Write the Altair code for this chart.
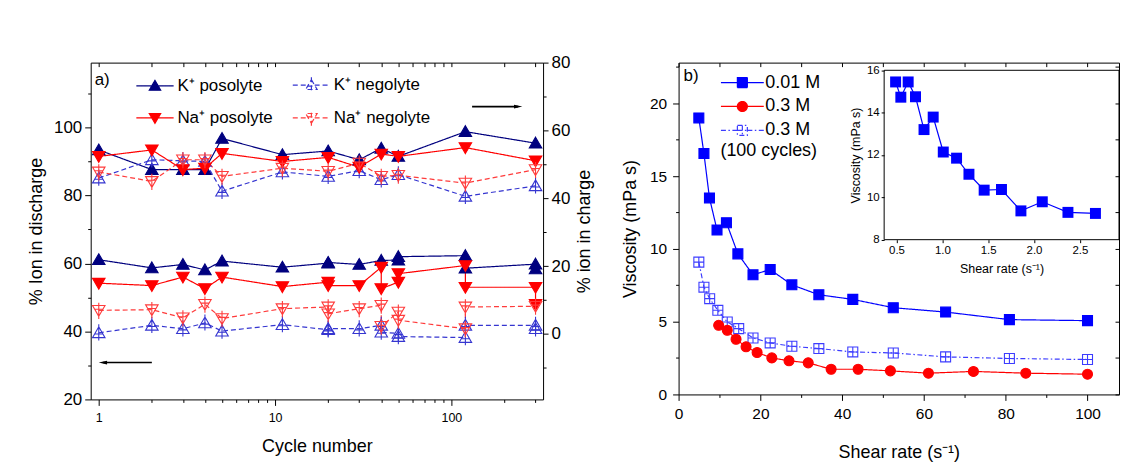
import altair as alt
import pandas as pd

FONT = "Liberation Sans"

# ================= panel a) : ion crossover vs cycle number =================
SERIES_A = ["K⁺ posolyte", "K⁺ negolyte", "Na⁺ posolyte", "Na⁺ negolyte"]
COLORS_A = ["#00007f", "#3535d0", "#ff0000", "#ff3b3b"]
FILLS_A = ["#00007f", "transparent", "#ff0000", "transparent"]
DASHES_A = [[1, 0], [5, 3], [1, 0], [5, 3]]

# charge group (right axis, % ion in charge)
CHARGE_CYCLES = [1, 2, 3, 4, 5, 11, 20, 30, 40, 50, 120, 300]
K_POS_CHARGE = [54.3, 48.5, 48.5, 48.5, 57.7, 52.9, 54.0, 51.4, 54.8, 52.4, 59.7, 56.3]
K_NEG_CHARGE = [46.0, 51.4, 51.1, 50.9, 42.1, 47.8, 46.5, 48.2, 45.5, 47.0, 40.6, 43.7]
NA_POS_CHARGE = [52.4, 54.3, 48.5, 48.9, 53.3, 50.9, 52.1, 49.2, 53.1, 52.4, 55.0, 51.1]
NA_NEG_CHARGE = [47.8, 45.0, 51.4, 51.4, 46.5, 48.9, 48.0, 50.4, 46.5, 46.8, 44.5, 48.5]

# discharge group (left axis, % ion in discharge)
K_POS_DIS_CYCLES = [1, 2, 3, 4, 5, 11, 20, 20, 30, 40, 50, 50, 120, 120, 300, 300]
K_POS_DIS = [61.1, 58.7, 59.7, 58.1, 60.7, 58.9, 60.1, 60.3, 59.7, 60.9, 61.0, 62.0, 62.3, 58.6, 59.8, 58.4]
K_NEG_DIS_CYCLES = [1, 2, 3, 4, 5, 11, 20, 20, 30, 40, 40, 50, 50, 120, 120, 300, 300]
K_NEG_DIS = [39.6, 41.8, 40.8, 42.5, 40.1, 42.0, 40.5, 40.8, 40.8, 41.8, 39.8, 39.4, 38.5, 38.2, 41.8, 41.8, 40.8]
NA_POS_DIS_CYCLES = [1, 2, 3, 4, 5, 11, 20, 20, 30, 40, 40, 50, 50, 120, 120, 300, 300]
NA_POS_DIS = [54.2, 53.5, 56.0, 52.6, 56.0, 53.2, 54.5, 53.5, 53.5, 58.9, 52.6, 54.5, 57.0, 59.4, 53.0, 53.0, 48.0]
NA_NEG_DIS_CYCLES = [1, 2, 3, 4, 5, 11, 20, 20, 30, 40, 40, 50, 50, 120, 120, 300]
NA_NEG_DIS = [46.2, 46.4, 44.0, 48.0, 43.8, 46.7, 47.2, 45.2, 46.7, 47.7, 41.5, 45.7, 43.3, 40.8, 47.2, 47.4]

# axis-indicator arrows (data units)
ARROW_CHARGE_X = [131, 239]
ARROW_CHARGE_Y = 67.1
ARROW_DIS_X = [2.0, 1.055]
ARROW_DIS_Y = 30.85

X_TICKS_A = [1, 2, 3, 4, 5, 6, 7, 8, 9, 10, 20, 30, 40, 50, 60, 70, 80, 90, 100, 200, 300]
Y_TICKS_DIS = [20, 30, 40, 50, 60, 70, 80, 90, 100, 110]
Y_TICKS_CHG = [-10, 0, 10, 20, 30, 40, 50, 60, 70, 80]

# ================= panel b) : viscosity vs shear rate =================
SERIES_B = ["0.01 M", "0.3 M", "0.3 M "]
COLORS_B = ["#0000ff", "#ff0000", "#3c3cff"]
FILLS_B = ["#0000ff", "#ff0000", "transparent"]
DASHES_B = [[1, 0], [1, 0], [5, 2.5, 1.5, 2.5]]

SHEAR_001 = [4.95, 6.2, 7.55, 9.4, 11.7, 14.5, 18.2, 22.4, 27.7, 34.3, 42.6, 52.5, 65.3, 80.9, 100]
VISC_001 = [19.0, 16.55, 13.5, 11.3, 11.8, 9.66, 8.22, 8.58, 7.53, 6.85, 6.53, 5.96, 5.66, 5.14, 5.07]
SHEAR_03 = [9.8, 11.9, 14.05, 16.5, 19.2, 22.8, 27.0, 31.7, 37.3, 43.9, 51.8, 61.1, 72.1, 84.9, 100]
VISC_03 = [4.75, 4.41, 3.79, 3.27, 2.88, 2.51, 2.31, 2.17, 1.73, 1.73, 1.62, 1.46, 1.58, 1.46, 1.39]
SHEAR_03_100 = [4.95, 6.2, 7.6, 9.6, 11.9, 14.7, 18.2, 22.4, 27.7, 34.3, 42.6, 52.5, 65.3, 80.9, 100]
VISC_03_100 = [9.09, 7.37, 6.58, 5.78, 4.98, 4.52, 3.88, 3.54, 3.31, 3.15, 2.92, 2.85, 2.58, 2.47, 2.40]

INSET_SHEAR = [0.49, 0.547, 0.627, 0.707, 0.80, 0.90, 1.01, 1.155, 1.29, 1.456, 1.645, 1.857, 2.09, 2.37, 2.67]
INSET_VISC = [15.45, 14.73, 15.45, 14.75, 13.2, 13.79, 12.14, 11.85, 11.09, 10.34, 10.37, 9.36, 9.79, 9.29, 9.24]

X_TICKS_B = [0, 10, 20, 30, 40, 50, 60, 70, 80, 90, 100]
Y_TICKS_B = [0, 2.5, 5, 7.5, 10, 12.5, 15, 17.5, 20, 22.5]
INSET_X_DOMAIN = [0.365, 2.927]
INSET_Y_DOMAIN = [8, 16]
INSET_X_TICKS = [0.5, 1.0, 1.5, 2.0, 2.5]
INSET_Y_TICKS = [8, 10, 12, 14, 16]

# ---------------- marker shapes (SVG paths, unit coords) ----------------
TRI_UP = "M0,-1.05L1.1,0.85L-1.1,0.85Z"
TRI_DN = "M0,1.05L1.1,-0.85L-1.1,-0.85Z"
TRI_UP_X = TRI_UP + "M0,-1.5L0,1.35M-0.75,0.2L0.75,0.2"
TRI_DN_X = TRI_DN + "M0,1.5L0,-1.35M-0.75,-0.2L0.75,-0.2"
SHAPES_A = [TRI_UP, TRI_UP_X, TRI_DN, TRI_DN_X]
LEG_LINE_A = "M-3.6,0L-0.62,0M0.62,0L3.6,0"

# legend order (filled column by column)
LEG_ORDER_A = [0, 2, 1, 3]
LEG_SERIES_A = [SERIES_A[i] for i in LEG_ORDER_A]
LEG_COLORS_A = [COLORS_A[i] for i in LEG_ORDER_A]
LEG_FILLS_A = [FILLS_A[i] for i in LEG_ORDER_A]
LEG_DASHES_A = [DASHES_A[i] for i in LEG_ORDER_A]
LEG_SHAPES_A = [LEG_LINE_A + SHAPES_A[i] for i in LEG_ORDER_A]

SQ = "M-1,-1L1,-1L1,1L-1,1Z"
CIRC = "M-1,0A1,1 0 1 0 1,0A1,1 0 1 0 -1,0Z"
SQ_X = SQ + "M0,-1L0,1M-1,0L1,0"
SHAPES_B = [SQ, CIRC, SQ_X]
LEG_LINE_B = "M-4.3,0L-1,0M1,0L4.3,0"
LEG_SHAPES_B = [LEG_LINE_B + s for s in SHAPES_B]
ARROW_R = "M1,0L-1,-0.45L-1,0.45Z"
ARROW_L = "M-1,0L1,-0.45L1,0.45Z"


def long_df(entries, xname, yname):
    rows = []
    for s, xs, ys in entries:
        for i, (a, b) in enumerate(zip(xs, ys)):
            rows.append({"series": s, xname: a, yname: b, "idx": i})
    return pd.DataFrame(rows)


def cond(test, major, minor):
    return {"condition": {"test": test, "value": major}, "value": minor}


# ---------------- panel a scales / axes ----------------
XS_A = alt.Scale(type="log", domain=[0.9, 331], nice=False)
YS_DIS = alt.Scale(domain=[20, 119.1], nice=False, zero=False)
YS_CHG = alt.Scale(domain=[-19.4, 80.1], nice=False, zero=False)

MAJOR_A = "datum.value == 1 || datum.value == 10 || datum.value == 100"
X_AX_A = alt.Axis(orient="bottom", values=X_TICKS_A,
                  labelExpr="(" + MAJOR_A + ") ? format(datum.value, 'd') : ''",
                  tickSize=cond(MAJOR_A, 6, 3), labelFontSize=12.5, labelPadding=6,
                  title="Cycle number", titleFontSize=18, titlePadding=14, domain=False)
X_AX_A_TOP = alt.Axis(orient="top", values=X_TICKS_A, labels=False, title=None,
                      domain=False, tickSize=4, offset=-4)
Y_AX_DIS = alt.Axis(orient="left", values=Y_TICKS_DIS,
                    labelExpr="datum.value % 20 == 0 ? datum.label : ''",
                    tickSize=cond("datum.value % 20 == 0", 6, 3), labelFontSize=17,
                    labelPadding=3, title="% Ion in discharge", titleFontSize=18,
                    titlePadding=8, domain=False)
Y_AX_CHG = alt.Axis(orient="right", values=Y_TICKS_CHG,
                    labelExpr="datum.value % 20 == 0 ? datum.label : ''",
                    tickSize=cond("datum.value % 20 == 0", 5, 3), labelFontSize=17,
                    labelPadding=3, title="% ion in charge", titleFontSize=18,
                    titleAngle=270, titleBaseline="top", titlePadding=6, domain=False)

dis_df = long_df([
    (SERIES_A[0], K_POS_DIS_CYCLES, K_POS_DIS),
    (SERIES_A[1], K_NEG_DIS_CYCLES, K_NEG_DIS),
    (SERIES_A[2], NA_POS_DIS_CYCLES, NA_POS_DIS),
    (SERIES_A[3], NA_NEG_DIS_CYCLES, NA_NEG_DIS),
], "cycle", "val")
chg_df = long_df([
    (SERIES_A[0], CHARGE_CYCLES, K_POS_CHARGE),
    (SERIES_A[1], CHARGE_CYCLES, K_NEG_CHARGE),
    (SERIES_A[2], CHARGE_CYCLES, NA_POS_CHARGE),
    (SERIES_A[3], CHARGE_CYCLES, NA_NEG_CHARGE),
], "cycle", "val")


def group_a(df, yscale, xaxis, yaxis, arrow_x, arrow_y, arrow_shape):
    x = alt.X("cycle:Q", scale=XS_A, axis=xaxis)
    y = alt.Y("val:Q", scale=yscale, axis=yaxis)
    lines = alt.Chart(df).mark_line(strokeWidth=1.2).encode(
        x=x, y=y,
        color=alt.Color("series:N", scale=alt.Scale(domain=SERIES_A, range=COLORS_A), legend=None),
        strokeDash=alt.StrokeDash("series:N", scale=alt.Scale(domain=SERIES_A, range=DASHES_A), legend=None),
        order=alt.Order("idx:Q"),
    )
    pts = alt.Chart(df).mark_point(size=130, strokeWidth=1.1, opacity=1).encode(
        x=x, y=y,
        shape=alt.Shape("series:N", scale=alt.Scale(domain=SERIES_A, range=SHAPES_A), legend=None),
        stroke=alt.Stroke("series:N", scale=alt.Scale(domain=SERIES_A, range=COLORS_A), legend=None),
        fill=alt.Fill("series:N", scale=alt.Scale(domain=SERIES_A, range=FILLS_A), legend=None),
    )
    adf = pd.DataFrame({"x1": [arrow_x[0]], "x2": [arrow_x[1]], "y": [arrow_y]})
    rule = alt.Chart(adf).mark_rule(color="black", strokeWidth=1.6).encode(
        x=alt.X("x1:Q", scale=XS_A, axis=xaxis), x2="x2:Q",
        y=alt.Y("y:Q", scale=yscale, axis=yaxis))
    head = alt.Chart(adf).mark_point(shape=arrow_shape, size=70, filled=True,
                                     color="black", opacity=1).encode(
        x=alt.X("x2:Q", scale=XS_A, axis=xaxis),
        y=alt.Y("y:Q", scale=yscale, axis=yaxis))
    return alt.layer(lines, pts, rule, head)


lower_a = group_a(dis_df, YS_DIS, X_AX_A, Y_AX_DIS, ARROW_DIS_X, ARROW_DIS_Y, ARROW_L)
upper_a = group_a(chg_df, YS_CHG, X_AX_A_TOP, Y_AX_CHG, ARROW_CHARGE_X, ARROW_CHARGE_Y, ARROW_R)

LEG_A = alt.Legend(orient="none", legendX=56, legendY=14, columns=2, title=None,
                   labelFontSize=17, labelFont=FONT, labelColor="black",
                   labelOffset=14, columnPadding=17, rowPadding=14,
                   symbolSize=108, symbolStrokeWidth=1.2)
legend_a = alt.Chart(dis_df).transform_filter("false").mark_point(
    size=108, strokeWidth=1.2, opacity=1).encode(
    shape=alt.Shape("series:N", scale=alt.Scale(domain=LEG_SERIES_A, range=LEG_SHAPES_A), legend=LEG_A),
    stroke=alt.Stroke("series:N", scale=alt.Scale(domain=LEG_SERIES_A, range=LEG_COLORS_A), legend=LEG_A),
    fill=alt.Fill("series:N", scale=alt.Scale(domain=LEG_SERIES_A, range=LEG_FILLS_A), legend=LEG_A),
    strokeDash=alt.StrokeDash("series:N", scale=alt.Scale(domain=LEG_SERIES_A, range=LEG_DASHES_A), legend=LEG_A),
)
text_a = alt.Chart(pd.DataFrame({"t": ["a)"]})).mark_text(
    fontSize=17, align="left", baseline="middle").encode(
    text="t:N", x=alt.value(4), y=alt.value(17))

panel_a = alt.layer(lower_a, upper_a, legend_a, text_a).resolve_scale(
    y="independent", color="independent", stroke="independent", fill="independent",
    shape="independent", strokeDash="independent").resolve_axis(
    x="independent").properties(width=454, height=338)

# ---------------- panel b scales / axes ----------------
XS_B = alt.Scale(domain=[0, 107.7], nice=False, zero=False)
YS_B = alt.Scale(domain=[0, 22.8], nice=False, zero=False)
X_AX_B = alt.Axis(orient="bottom", values=X_TICKS_B,
                  labelExpr="datum.value % 20 == 0 ? datum.label : ''",
                  tickSize=cond("datum.value % 20 == 0", 6, 3), labelFontSize=15.5,
                  labelPadding=6, title="Shear rate (s⁻¹)", titleFontSize=18,
                  titlePadding=22, domain=False)
Y_AX_B = alt.Axis(orient="left", values=Y_TICKS_B,
                  labelExpr="datum.value % 5 == 0 ? datum.label : ''",
                  tickSize=cond("datum.value % 5 == 0", 6, 3), labelFontSize=15.5,
                  labelPadding=6, title="Viscosity (mPa s)", titleFontSize=18,
                  titlePadding=10, domain=False)
X_AX_B_TOP = alt.Axis(orient="top", values=X_TICKS_B, labels=False, title=None,
                      domain=False, tickSize=4, offset=-4)
Y_AX_B_RIGHT = alt.Axis(orient="right", values=Y_TICKS_B, labels=False, title=None,
                        domain=False, tickSize=4, offset=-4)

b_df = long_df([
    (SERIES_B[2], SHEAR_03_100, VISC_03_100),
    (SERIES_B[1], SHEAR_03, VISC_03),
    (SERIES_B[0], SHEAR_001, VISC_001),
], "shear", "visc")

xb = alt.X("shear:Q", scale=XS_B, axis=X_AX_B)
yb = alt.Y("visc:Q", scale=YS_B, axis=Y_AX_B)
line_b = alt.Chart(b_df).mark_line(strokeWidth=1.2).encode(
    x=xb, y=yb,
    color=alt.Color("series:N", scale=alt.Scale(domain=SERIES_B, range=COLORS_B), legend=None),
    strokeDash=alt.StrokeDash("series:N", scale=alt.Scale(domain=SERIES_B, range=DASHES_B), legend=None),
    order=alt.Order("idx:Q"),
)
pts_b = alt.Chart(b_df).mark_point(size=100, strokeWidth=1.1, opacity=1).encode(
    x=xb, y=yb,
    shape=alt.Shape("series:N", scale=alt.Scale(domain=SERIES_B, range=SHAPES_B), legend=None),
    stroke=alt.Stroke("series:N", scale=alt.Scale(domain=SERIES_B, range=COLORS_B), legend=None),
    fill=alt.Fill("series:N", scale=alt.Scale(domain=SERIES_B, range=FILLS_B), legend=None),
)
data_b = alt.layer(line_b, pts_b)
mirror_b = alt.Chart(b_df).mark_point(opacity=0).encode(
    x=alt.X("shear:Q", scale=XS_B, axis=X_AX_B_TOP),
    y=alt.Y("visc:Q", scale=YS_B, axis=Y_AX_B_RIGHT))

LEG_B = alt.Legend(orient="none", legendX=55, legendY=11, title=None,
                   labelFontSize=18, labelFont=FONT, labelColor="black",
                   labelOffset=14, rowPadding=6, symbolSize=100, symbolStrokeWidth=1.2)
legend_b = alt.Chart(b_df).transform_filter("false").mark_point(
    size=100, strokeWidth=1.2, opacity=1).encode(
    shape=alt.Shape("series:N", scale=alt.Scale(domain=SERIES_B, range=LEG_SHAPES_B), legend=LEG_B),
    stroke=alt.Stroke("series:N", scale=alt.Scale(domain=SERIES_B, range=COLORS_B), legend=LEG_B),
    fill=alt.Fill("series:N", scale=alt.Scale(domain=SERIES_B, range=FILLS_B), legend=LEG_B),
    strokeDash=alt.StrokeDash("series:N", scale=alt.Scale(domain=SERIES_B, range=DASHES_B), legend=LEG_B),
)
text_b = alt.Chart(pd.DataFrame({"t": ["b)"]})).mark_text(
    fontSize=17, align="left", baseline="middle").encode(
    text="t:N", x=alt.value(5), y=alt.value(13))
text_cycles = alt.Chart(pd.DataFrame({"t": ["(100 cycles)"]})).mark_text(
    fontSize=18, align="left", baseline="middle").encode(
    text="t:N", x=alt.value(42), y=alt.value(89))

main_b = alt.layer(data_b, mirror_b, legend_b, text_b, text_cycles).resolve_axis(
    x="independent", y="independent").resolve_scale(
    color="independent", stroke="independent", fill="independent",
    shape="independent", strokeDash="independent")

# inset
XS_I = alt.Scale(domain=INSET_X_DOMAIN, range=[206.3, 442], nice=False, zero=False)
YS_I = alt.Scale(domain=INSET_Y_DOMAIN, range=[177.7, 7.7], nice=False, zero=False)
XI_AX = alt.Axis(orient="bottom", offset=-155.3, values=INSET_X_TICKS, format=".1f",
                 tickSize=3, labelFontSize=11.5, labelPadding=2, title="Shear rate (s⁻¹)",
                 titleFontSize=12.5, titlePadding=6, domain=False)
YI_AX = alt.Axis(orient="left", offset=-206.3, values=INSET_Y_TICKS, tickSize=3,
                 labelFontSize=11.5, labelPadding=2, title="Viscosity (mPa s)",
                 titleFontSize=12.5, titlePadding=4, domain=False)
inset_df = pd.DataFrame({"shear": INSET_SHEAR, "visc": INSET_VISC})
xi = alt.X("shear:Q", scale=XS_I, axis=XI_AX)
yi = alt.Y("visc:Q", scale=YS_I, axis=YI_AX)
frame_i = alt.Chart(pd.DataFrame({"k": [0]})).mark_rect(
    fillOpacity=0, stroke="black", strokeWidth=1).encode(
    x=alt.X(datum=INSET_X_DOMAIN[0], scale=XS_I, axis=XI_AX),
    x2=alt.X2(datum=INSET_X_DOMAIN[1]),
    y=alt.Y(datum=INSET_Y_DOMAIN[0], scale=YS_I, axis=YI_AX),
    y2=alt.Y2(datum=INSET_Y_DOMAIN[1]))
line_i = alt.Chart(inset_df).mark_line(color="#0000ff", strokeWidth=1.2).encode(x=xi, y=yi)
pts_i = alt.Chart(inset_df).mark_point(shape=SQ, size=121, filled=True, color="#0000ff",
                                       opacity=1).encode(x=xi, y=yi)
inset_b = alt.layer(frame_i, line_i, pts_i)

panel_b = alt.layer(main_b, inset_b).resolve_scale(
    x="independent", y="independent").resolve_axis(
    x="independent", y="independent").properties(width=442, height=333)

chart = alt.hconcat(panel_a, panel_b, spacing=26).properties(
    padding={"left": 19, "top": 44, "right": 0, "bottom": 0},
    background="white",
).configure_view(stroke="black", strokeWidth=1).configure_axis(
    labelFont=FONT, titleFont=FONT, labelColor="black", titleColor="black",
    tickColor="black", tickWidth=1, grid=False, titleFontWeight="normal",
    labelFlush=False, labelOverlap=False,
).configure_text(font=FONT, color="black")

chart.save("out.html", embed_options={"renderer": "svg", "actions": False})
